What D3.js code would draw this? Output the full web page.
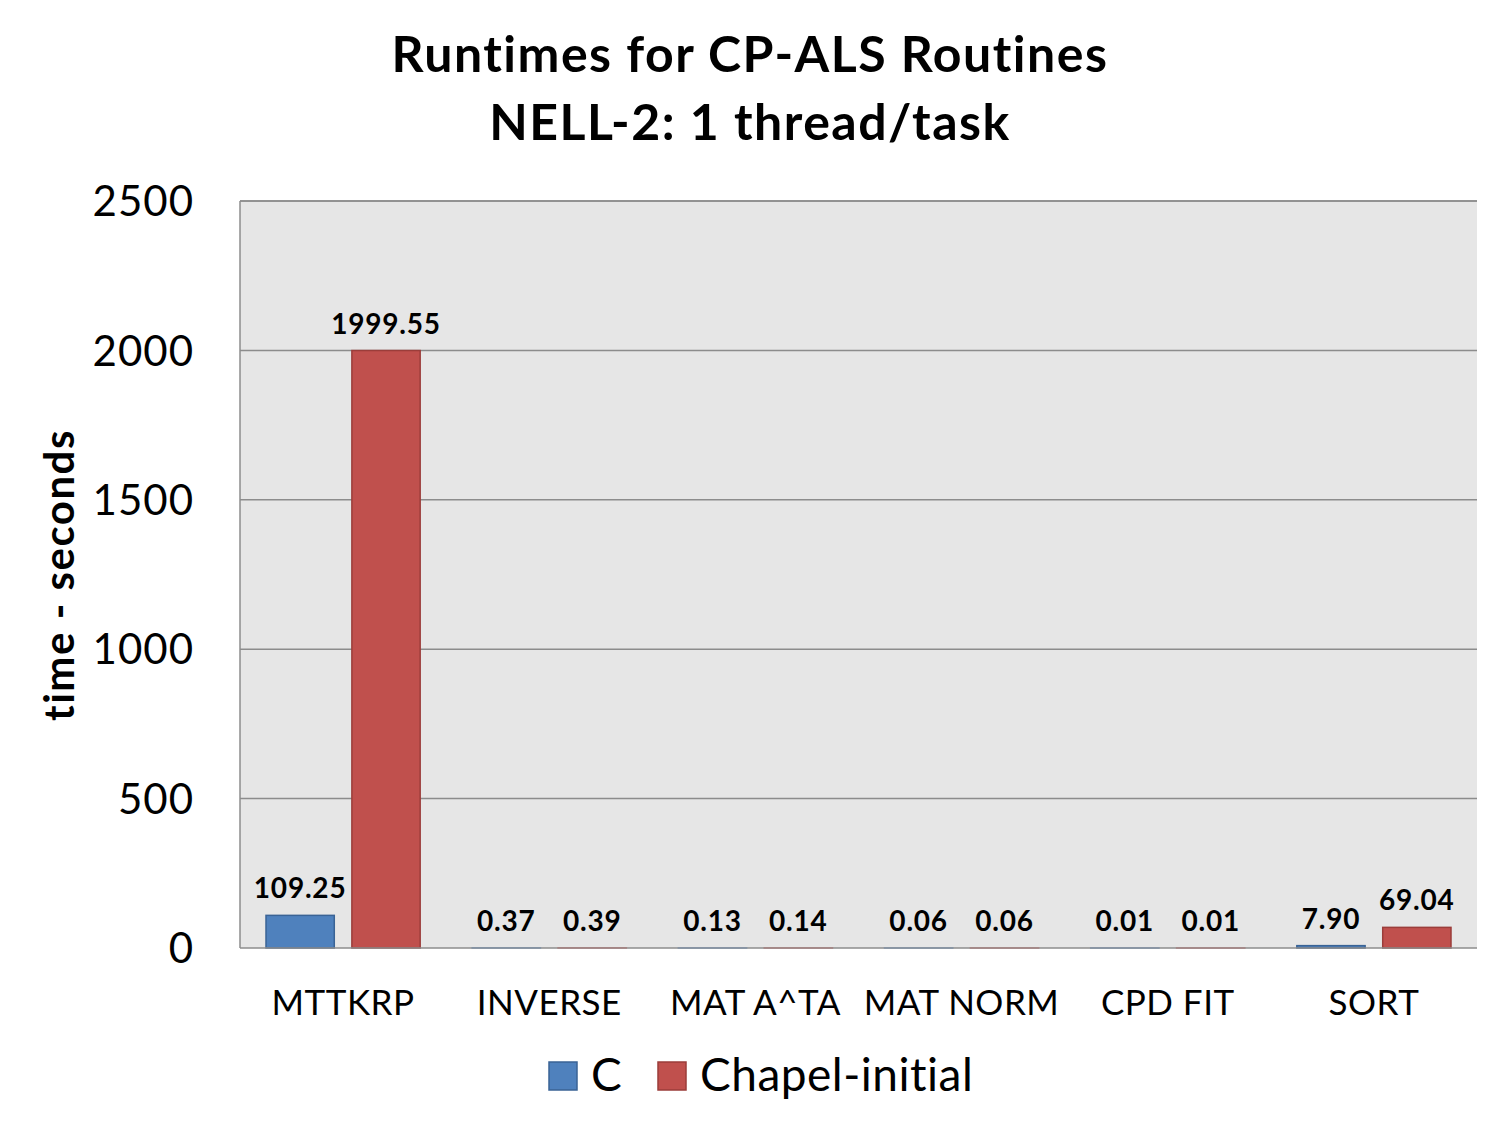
<!DOCTYPE html>
<html><head><meta charset="utf-8">
<script src="https://cdn.jsdelivr.net/npm/d3@7"></script>
<style>body{margin:0;background:#fff}svg{display:block}text{font-family:Lato,"Open Sans",sans-serif}</style>
</head><body><svg id="c" width="1500" height="1125"></svg>
<script>
const categories = ["MTTKRP","INVERSE","MAT A^TA","MAT NORM","CPD FIT","SORT"];
const seriesNames = ["C","Chapel-initial"];
const cValues = [109.25,0.37,0.13,0.06,0.01,7.90];
const chapelValues = [1999.55,0.39,0.14,0.06,0.01,69.04];
const yTicks = [0,500,1000,1500,2000,2500];
const colors = ["#4f81bd","#c0504d"];
const strokes = ["#3a6395","#9b3d3a"];

const svg = d3.select("#c");
const L=240,T=201,R=1477,B=948;
const x = d3.scaleBand().domain(categories).range([L,R]).paddingInner(0).paddingOuter(0);
const x1 = d3.scaleBand().domain(seriesNames).range([26, x.bandwidth()-26]).paddingInner(0.205);
const y = d3.scaleLinear().domain([0,2500]).range([B,T]);

svg.append("rect").attr("x",L).attr("y",T).attr("width",R-L).attr("height",B-T).attr("fill","#e6e6e6");
svg.append("g").selectAll("line").data(yTicks.slice(1)).join("line")
 .attr("x1",L).attr("x2",R).attr("y1",d=>y(d)).attr("y2",d=>y(d)).attr("stroke","#8c8c8c").attr("stroke-width",1.5);
svg.append("line").attr("x1",L).attr("x2",L).attr("y1",T).attr("y2",B).attr("stroke","#8c8c8c").attr("stroke-width",1.5);
svg.append("line").attr("x1",L).attr("x2",R).attr("y1",T).attr("y2",T).attr("stroke","#8c8c8c").attr("stroke-width",1.5);

const data = categories.map((c,i)=>({cat:c, vals:[cValues[i],chapelValues[i]]}));
const g = svg.append("g").selectAll("g").data(data).join("g").attr("transform",d=>`translate(${x(d.cat)},0)`);
g.selectAll("rect").data(d=>d.vals.map((v,j)=>({v,s:seriesNames[j],j}))).join("rect")
 .attr("x",d=>x1(d.s)).attr("width",x1.bandwidth())
 .attr("y",d=>y(d.v)).attr("height",d=>Math.max(0,B-y(d.v)))
 .attr("fill",d=>colors[d.j]).attr("stroke",d=>d.v<1?d3.color(colors[d.j]).brighter(0.6):strokes[d.j]).attr("stroke-width",1.5);
g.selectAll("text").data(d=>d.vals.map((v,j)=>({v,s:seriesNames[j],j}))).join("text")
 .attr("x",d=>x1(d.s)+x1.bandwidth()/2).attr("y",d=>y(d.v)-17)
 .attr("text-anchor","middle").attr("font-weight","bold").attr("font-size",28).attr("letter-spacing",0.8).attr("fill","#000")
 .text(d=>d.v.toFixed(2));

svg.append("line").attr("x1",L).attr("x2",R).attr("y1",B).attr("y2",B).attr("stroke","#8c8c8c").attr("stroke-width",1.5);

const ya = svg.append("g").attr("transform",`translate(${L},0)`).call(d3.axisLeft(y).tickValues(yTicks).tickSize(0).tickPadding(46).tickFormat(d3.format("d")));
ya.select(".domain").remove();
ya.selectAll("text").attr("font-size",42).attr("letter-spacing",1).attr("font-family","Lato,'Open Sans',sans-serif").attr("fill","#000").attr("dy","0.35em");

const xa = svg.append("g").attr("transform",`translate(0,${B})`).call(d3.axisBottom(x).tickSize(0).tickPadding(42));
xa.select(".domain").remove();
xa.selectAll("text").attr("font-size",35).attr("letter-spacing",0.5).attr("font-family","Lato,'Open Sans',sans-serif").attr("fill","#000");

svg.append("text").attr("x",750).attr("y",72).attr("text-anchor","middle").attr("font-weight","bold").attr("font-size",50).attr("letter-spacing",1.5).text("Runtimes for CP-ALS Routines");
svg.append("text").attr("x",750).attr("y",140).attr("text-anchor","middle").attr("font-weight","bold").attr("font-size",50).attr("letter-spacing",1.5).text("NELL-2: 1 thread/task");
svg.append("text").attr("transform","translate(74,575) rotate(-90)").attr("text-anchor","middle").attr("font-weight","bold").attr("font-size",42).attr("letter-spacing",1.5).text("time - seconds");

const lg = svg.append("g");
const lx=[549,658];
seriesNames.forEach((s,i)=>{
  lg.append("rect").attr("x",lx[i]).attr("y",1062).attr("width",28).attr("height",28).attr("fill",colors[i]).attr("stroke",strokes[i]).attr("stroke-width",1.5);
  lg.append("text").attr("x",lx[i]+42).attr("y",1091).attr("font-size",46).attr("letter-spacing",0.5).text(s);
});
</script></body></html>
